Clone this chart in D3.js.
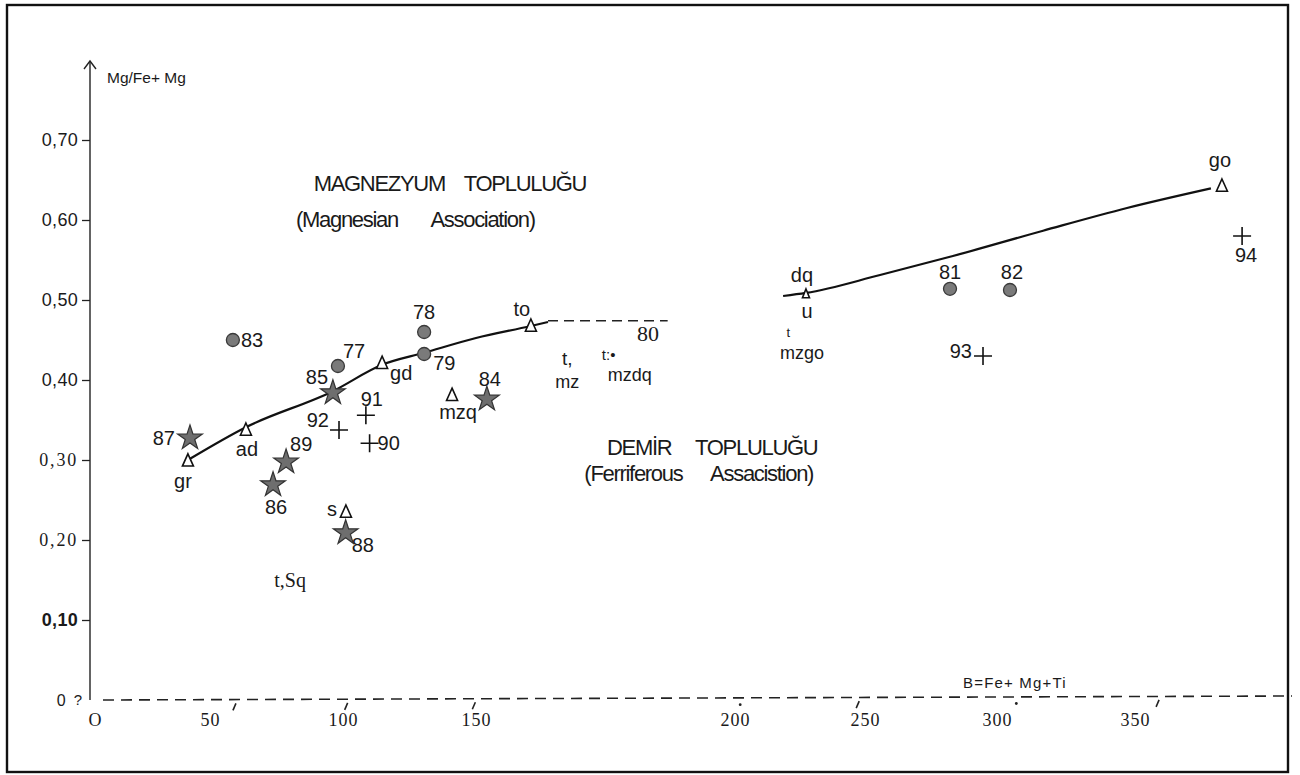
<!DOCTYPE html>
<html>
<head>
<meta charset="utf-8">
<script src="https://cdn.jsdelivr.net/npm/d3@7"></script>
<style>
  body { margin: 0; background: #fff; }
  svg text { font-family: "Liberation Sans", Arial, sans-serif; fill: #1a1a1a; }
  .pre { white-space: pre; }
</style>
</head>
<body>
<svg id="chart" width="1300" height="775"></svg>
<script>
// ---- axis ticks ----
const xTickValues = [0, 50, 100, 150, 200, 250, 300, 350];
const yTickValues = [0, 0.1, 0.2, 0.3, 0.4, 0.5, 0.6, 0.7];
// small hand-drawn marks along the dashed base line
const xBaseMarks = [59, 101, 149, 202, 247, 307, 358];
const xBaseGlyphs = [",", ",", ",", ".", ",", ".", ","];

// ---- samples: filled circles ----
const circleIds   = ["83", "77", "78", "79", "81", "82"];
const circleB     = [58.6, 98.1, 130.5, 130.5, 282.2, 304.7];
const circleRatio = [0.450, 0.4175, 0.460, 0.4325, 0.514, 0.5125];

// ---- samples: stars ----
const starIds   = ["87", "85", "89", "86", "88", "84"];
const starB     = [41.3, 96.2, 78.6, 73.7, 101.0, 152.1];
const starRatio = [0.3275, 0.384, 0.2975, 0.269, 0.209, 0.376];

// ---- samples: crosses ----
const crossIds   = ["92", "91", "90", "93", "94"];
const crossB     = [98.5, 108.6, 110.0, 294.7, 388.8];
const crossRatio = [0.3375, 0.356, 0.321, 0.430, 0.580];

// ---- reference rocks: open triangles ----
const triIds   = ["gr", "ad", "gd", "s", "mzq", "to", "dq", "go"];
const triB     = [40.4, 63.5, 114.7, 101.1, 141.0, 160.6, 227.3, 381.5];
const triRatio = [0.299, 0.3375, 0.421, 0.235, 0.381, 0.4675, 0.5075, 0.6425];

// ---- trend curves ----
const magCurveB     = [40.4, 63.5, 96.2, 114.7, 130.5, 150.0, 160.6, 163.9];
const magCurveRatio = [0.300, 0.341, 0.386, 0.419, 0.434, 0.4525, 0.4675, 0.4725];
const magDashB      = [163.9, 187.0];
const magDashRatio  = [0.474, 0.474];
const ferCurveB     = [218.5, 227.3, 255.7, 282.2, 316.7, 347.1, 377.5];
const ferCurveRatio = [0.505, 0.5088, 0.5312, 0.554, 0.5866, 0.615, 0.6395];

// ---- free annotations (text placed in data units) ----
const noteTexts = ["80", "t,", "mz", "t:•", "mzdq", "t", "mzgo", "t,Sq"];
const noteB     = [183.2, 167.6, 167.6, 175.6, 179.7, 220.5, 225.8, 80.1];
const noteRatio = [0.459, 0.4275, 0.3975, 0.4315, 0.4065, 0.459, 0.434, 0.150];

// ---- label placement around each marker [dx, dy, anchor] ----
const labelPlace = {
  "83": [8, 0, "start"], "77": [5, -15, "start"], "78": [0, -20, "middle"],
  "79": [9, 9, "start"], "81": [0, -17, "middle"], "82": [2, -18, "middle"],
  "87": [-15, 0, "end"], "85": [-16, -16, "middle"], "89": [4, -18, "start"],
  "86": [3, 22, "middle"], "88": [6, 12, "start"], "84": [3, -20, "middle"],
  "92": [-10, -10, "end"], "91": [6, -16, "middle"], "90": [8, 0, "start"],
  "93": [-11, -5, "end"], "94": [4, 19, "middle"],
  "gr": [-5, 20, "middle"], "ad": [1, 19, "middle"], "gd": [8, 10, "start"],
  "s": [-9, -3, "end"], "mzq": [6, 17, "middle"], "to": [-9, -17, "middle"],
  "dq": [-4, -19, "middle"], "go": [-2, -26, "middle"]
};
const noteStyle = {
  "80": ["Liberation Serif", 22], "t,Sq": ["Liberation Serif", 20],
  "t,": ["Liberation Sans", 19], "mz": ["Liberation Sans", 18],
  "t:•": ["Liberation Sans", 15], "mzdq": ["Liberation Sans", 18],
  "t": ["Liberation Sans", 13], "mzgo": ["Liberation Sans", 18]
};

// ---- layout ----
const xLeft = 95;
const segWidths = [115, 133, 133, 259, 130, 132, 138]; // wider gap between 150 and 200
const xRange = segWidths.reduce((acc, w) => (acc.push(acc[acc.length - 1] + w), acc), [xLeft]);

const svg = d3.select("#chart");
const x = d3.scaleLinear().domain(xTickValues).range(xRange);
const y = d3.scaleLinear().domain([0, 0.8]).range([700, 60]);
const yAxisX = x(0) - 5;

// frame
svg.append("rect")
  .attr("x", 7).attr("y", 5).attr("width", 1281).attr("height", 767)
  .attr("fill", "none").attr("stroke", "#111").attr("stroke-width", 2.4);

// ---- y axis ----
const yAxis = svg.append("g")
  .attr("transform", `translate(${yAxisX},0)`)
  .call(d3.axisLeft(y).tickValues(yTickValues).tickSize(8).tickPadding(4)
    .tickFormat(d => d === 0 ? "0" : "0," + d3.format(".2f")(d).split(".")[1]));
yAxis.select(".domain").remove();
yAxis.selectAll(".tick line").attr("stroke", "#222").attr("stroke-width", 1.3)
  .filter(d => d === 0).remove();
yAxis.selectAll(".tick text")
  .attr("font-size", 18)
  .style("font-family", d => (d === 0.2 || d === 0.3) ? "Liberation Serif" : "Liberation Sans")
  .attr("font-weight", d => d === 0.1 ? "bold" : "normal")
  .attr("letter-spacing", d => (d === 0.2 || d === 0.3) ? 1.8 : 0.3)
  .attr("fill", d => d === 0 ? "#555" : "#1a1a1a");
yAxis.selectAll(".tick").filter(d => d === 0).select("text").attr("dx", -12).attr("font-size", 16);
svg.append("text").attr("x", yAxisX - 12).attr("y", y(0)).attr("dy", "0.32em")
  .attr("font-size", 15).attr("fill", "#444").attr("text-anchor", "middle").text("?");

svg.append("line")
  .attr("x1", yAxisX).attr("x2", yAxisX).attr("y1", y(0)).attr("y2", y(0.8) + 2)
  .attr("stroke", "#222").attr("stroke-width", 1.4);
svg.append("path")
  .attr("d", `M${yAxisX - 6},${y(0.8) + 9} L${yAxisX},${y(0.8) + 1} L${yAxisX + 6},${y(0.8) + 9}`)
  .attr("fill", "none").attr("stroke", "#222").attr("stroke-width", 1.4);
svg.append("text").attr("x", yAxisX + 17).attr("y", y(0.8) + 23)
  .attr("font-size", 15.5).text("Mg/Fe+ Mg");

// ---- x axis (dashed base line) ----
svg.append("line")
  .attr("x1", x(0) + 8).attr("x2", 1292).attr("y1", y(0)).attr("y2", y(0) - 4)
  .attr("stroke", "#222").attr("stroke-width", 1.6).attr("stroke-dasharray", "11,7");
const xAxis = svg.append("g")
  .attr("transform", `translate(0,${y(0)})`)
  .call(d3.axisBottom(x).tickValues(xTickValues).tickSize(0).tickPadding(13)
    .tickFormat(d => d === 0 ? "O" : String(d)));
xAxis.select(".domain").remove();
xAxis.selectAll(".tick text")
  .style("font-family", "Liberation Serif").attr("font-size", 18)
  .attr("letter-spacing", 1).attr("fill", "#1a1a1a");

const marks = svg.append("g");
xBaseMarks.forEach((v, i) => {
  const px = x(v), py = y(0) - (v / 350) * 4;
  if (xBaseGlyphs[i] === ",") {
    marks.append("line").attr("x1", px + 2).attr("y1", py + 4).attr("x2", px - 1).attr("y2", py + 11)
      .attr("stroke", "#222").attr("stroke-width", 1.6);
  } else {
    marks.append("circle").attr("cx", px).attr("cy", py + 7).attr("r", 1.4).attr("fill", "#222");
  }
});
svg.append("text").attr("class", "pre")
  .attr("x", x(306.5)).attr("y", y(0) - 12).attr("text-anchor", "middle")
  .attr("font-size", 15).attr("letter-spacing", 1.2).text("B=Fe+ Mg+Ti");

// ---- region titles ----
const titles = svg.append("g").attr("font-size", 22).attr("letter-spacing", -1.3);
titles.append("text").attr("class", "pre").attr("text-anchor", "middle")
  .attr("x", x(140.2)).attr("y", y(0.6365)).text("MAGNEZYUM    TOPLULUĞU");
titles.append("text").attr("class", "pre").attr("text-anchor", "middle")
  .attr("x", x(127.2)).attr("y", y(0.591)).text("(Magnesian       Association)");
titles.append("text").attr("class", "pre").attr("text-anchor", "middle")
  .attr("x", x(195.6)).attr("y", y(0.306)).text("DEMİR     TOPLULUĞU");
titles.append("text").attr("class", "pre").attr("text-anchor", "middle")
  .attr("x", x(193)).attr("y", y(0.274)).text("(Ferriferous      Assacistion)");

// ---- trend curves ----
const line = d3.line().x(d => x(d[0])).y(d => y(d[1])).curve(d3.curveMonotoneX);
svg.append("path").attr("d", line(d3.zip(magCurveB, magCurveRatio)))
  .attr("fill", "none").attr("stroke", "#111").attr("stroke-width", 2.2);
svg.append("path").attr("d", line(d3.zip(magDashB, magDashRatio)))
  .attr("fill", "none").attr("stroke", "#222").attr("stroke-width", 1.4)
  .attr("stroke-dasharray", "10,6");
svg.append("path").attr("d", line(d3.zip(ferCurveB, ferCurveRatio)))
  .attr("fill", "none").attr("stroke", "#111").attr("stroke-width", 2.2);

// ---- markers ----
const labelFont = 20;
function addLabel(g, id, px, py) {
  const p = labelPlace[id];
  g.append("text").attr("x", px + p[0]).attr("y", py + p[1]).attr("dy", "0.35em")
    .attr("text-anchor", p[2]).attr("font-size", labelFont).attr("fill", "#222").text(id);
}

const gTri = svg.append("g");
triIds.forEach((id, i) => {
  const px = x(triB[i]), py = y(triRatio[i]);
  const small = id === "dq";
  const h = small ? 5 : 7, w = small ? 3.5 : 5.5;
  gTri.append("path")
    .attr("d", `M${px},${py - h} L${px + w},${py + h * 0.75} L${px - w},${py + h * 0.75} Z`)
    .attr("fill", "#fff").attr("stroke", "#111").attr("stroke-width", 1.6);
  addLabel(gTri, id, px, py);
  if (small) {
    gTri.append("text").attr("x", px + 1).attr("y", py + 17).attr("dy", "0.35em")
      .attr("text-anchor", "middle").attr("font-size", labelFont).text("u");
  }
});

const gCirc = svg.append("g");
circleIds.forEach((id, i) => {
  const px = x(circleB[i]), py = y(circleRatio[i]);
  gCirc.append("circle").attr("cx", px).attr("cy", py).attr("r", 6.5)
    .attr("fill", "#7a7a7a").attr("stroke", "#3a3a3a").attr("stroke-width", 1.3);
  addLabel(gCirc, id, px, py);
});

const star = d3.symbol(d3.symbolStar).size(190);
const gStar = svg.append("g");
starIds.forEach((id, i) => {
  const px = x(starB[i]), py = y(starRatio[i]);
  gStar.append("path").attr("d", star()).attr("transform", `translate(${px},${py})`)
    .attr("fill", "#6e6e6e").attr("stroke", "#333").attr("stroke-width", 1.2);
  addLabel(gStar, id, px, py);
});

const gCross = svg.append("g");
crossIds.forEach((id, i) => {
  const px = x(crossB[i]), py = y(crossRatio[i]);
  gCross.append("path")
    .attr("d", `M${px - 9},${py} H${px + 9} M${px},${py - 9} V${py + 9}`)
    .attr("stroke", "#111").attr("stroke-width", 1.6).attr("fill", "none");
  addLabel(gCross, id, px, py);
});

// ---- annotations ----
const gNote = svg.append("g");
noteTexts.forEach((t, i) => {
  const s = noteStyle[t];
  gNote.append("text").attr("x", x(noteB[i])).attr("y", y(noteRatio[i])).attr("dy", "0.35em")
    .attr("text-anchor", "middle").style("font-family", s[0]).attr("font-size", s[1])
    .attr("fill", "#222").text(t);
});
</script>
</body>
</html>
